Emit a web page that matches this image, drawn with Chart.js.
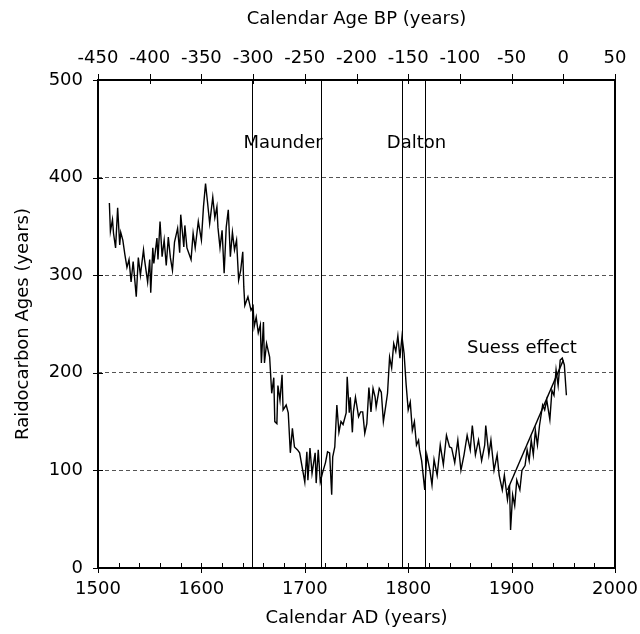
<!DOCTYPE html>
<html>
<head>
<meta charset="utf-8">
<script src="https://cdn.jsdelivr.net/npm/chart.js@4/dist/chart.umd.min.js"></script>
<style>
  html, body { margin: 0; padding: 0; background: #fff; }
  #wrap { width: 640px; height: 634px; position: relative; }
</style>
</head>
<body>
<div id="wrap"><canvas id="c14"></canvas></div>
<script>
// radiocarbon record, calendar AD vs 14C age
const years = [
  1511, 1512, 1514, 1515, 1517, 1519, 1521, 1522, 1524, 1526, 1528, 1530, 1532, 1534, 1537, 1539,
  1541, 1544, 1545, 1548, 1550, 1551, 1553, 1554, 1557, 1558, 1560, 1562, 1564, 1566, 1568, 1570,
  1572, 1574, 1577, 1579, 1580, 1583, 1584, 1586, 1590, 1592, 1594, 1597, 1600, 1602, 1604, 1606,
  1608, 1611, 1613, 1615, 1616, 1618, 1620, 1622, 1624, 1626, 1628, 1630, 1632, 1634, 1636, 1638,
  1640, 1641, 1642, 1645, 1648, 1650, 1651, 1653, 1655, 1657, 1658, 1660, 1661, 1663, 1666, 1668,
  1670, 1671, 1673, 1674, 1676, 1678, 1679, 1682, 1684, 1686, 1688, 1690, 1693, 1695, 1698, 1700,
  1702, 1703, 1705, 1707, 1710, 1711, 1713, 1715, 1717, 1720, 1722, 1724, 1726, 1727, 1729, 1731,
  1733, 1735, 1737, 1740, 1741, 1743, 1744, 1746, 1747, 1749, 1752, 1754, 1756, 1758, 1760, 1762,
  1764, 1766, 1768, 1769, 1772, 1774, 1776, 1778, 1780, 1782, 1784, 1786, 1788, 1790, 1792, 1794,
  1796, 1798, 1800, 1802, 1804, 1806, 1808, 1810, 1811, 1813, 1816, 1818, 1821, 1823, 1825, 1828,
  1831, 1834, 1837, 1840, 1842, 1845, 1848, 1851, 1854, 1857, 1860, 1862, 1865, 1868, 1871, 1874,
  1875, 1878, 1880, 1883, 1886, 1888, 1891, 1893, 1896, 1898, 1899, 1901, 1903, 1905, 1908, 1910,
  1913, 1915, 1917, 1919, 1921, 1923, 1925, 1927, 1930, 1932, 1934, 1937, 1939, 1941, 1943, 1945,
  1947, 1949, 1951, 1953
];
const ages = [
  374, 345, 357, 343, 328, 369, 331, 344, 336, 321, 308, 316, 293, 314, 278, 318,
  300, 326, 316, 293, 316, 282, 328, 312, 338, 316, 355, 319, 336, 310, 339, 318,
  305, 334, 348, 323, 362, 329, 351, 328, 316, 343, 328, 355, 336, 370, 394, 374,
  353, 380, 359, 370, 349, 328, 346, 302, 349, 367, 319, 344, 326, 336, 295, 305,
  324, 288, 269, 278, 264, 268, 247, 257, 241, 249, 210, 252, 210, 230, 216, 179,
  195, 150, 148, 187, 172, 198, 162, 167, 159, 118, 143, 124, 121, 118, 100, 88,
  119, 90, 123, 97, 118, 87, 121, 88, 97, 108, 119, 118, 75, 114, 124, 167,
  139, 150, 147, 159, 196, 159, 175, 139, 160, 175, 155, 160, 160, 138, 148, 185,
  160, 184, 175, 165, 184, 180, 150, 164, 179, 216, 205, 230, 222, 238, 215, 237,
  220, 188, 162, 170, 141, 150, 126, 131, 121, 110, 80, 116, 100, 85, 111, 95,
  126, 106, 136, 124, 123, 108, 131, 100, 116, 136, 121, 146, 116, 131, 110, 126,
  146, 116, 131, 100, 116, 95, 80, 95, 70, 85, 39, 75, 64, 90, 80, 100,
  105, 121, 110, 131, 116, 141, 126, 146, 167, 162, 172, 152, 182, 177, 203, 187,
  213, 215, 208, 177
];

// Suess effect trend line
const suessYears = [1896, 1950];
const suessAges = [80, 213];

// solar minima
const maunderYears = [1649, 1716];
const daltonYears = [1794, 1816];

const notes = [
  { text: 'Maunder', x: 1679, y: 435 },
  { text: 'Dalton', x: 1808, y: 435 },
  { text: 'Suess effect', x: 1910, y: 225 }
];

const FONT = "'DejaVu Sans', Verdana, sans-serif";
const font18 = { family: FONT, size: 18 };

const frame = {
  id: 'frame',
  afterDatasetsDraw(chart) {
    const ctx = chart.ctx;
    const x = chart.scales.x, xTop = chart.scales.xTop, y = chart.scales.y;
    const { left, right, top, bottom } = chart.chartArea;

    ctx.save();
    ctx.strokeStyle = '#000';

    // minimum boxes, full height
    ctx.lineWidth = 1;
    [maunderYears, daltonYears].forEach(span => {
      const x0 = Math.round(x.getPixelForValue(span[0])) + 0.5;
      const x1 = Math.round(x.getPixelForValue(span[1])) + 0.5;
      ctx.strokeRect(x0, top, x1 - x0, bottom - top);
    });

    // text notes
    ctx.fillStyle = '#000';
    ctx.font = '18px ' + FONT;
    ctx.textAlign = 'center';
    ctx.textBaseline = 'middle';
    notes.forEach(n => ctx.fillText(n.text, x.getPixelForValue(n.x), y.getPixelForValue(n.y)));

    // tick marks
    ctx.beginPath();
    for (let v = 1500; v <= 2000; v += 20) {
      const px = Math.round(x.getPixelForValue(v)) + 0.5;
      ctx.moveTo(px, bottom - 5);
      ctx.lineTo(px, v % 100 === 0 ? bottom + 5 : bottom);
    }
    xTop.ticks.forEach(t => {
      const px = Math.round(xTop.getPixelForValue(t.value)) + 0.5;
      ctx.moveTo(px, top - 6);
      ctx.lineTo(px, top + 4);
    });
    y.ticks.forEach(t => {
      const py = Math.round(y.getPixelForValue(t.value)) + 0.5;
      ctx.moveTo(left - 5, py);
      ctx.lineTo(left + 5, py);
    });
    ctx.stroke();

    // plot frame
    ctx.lineWidth = 2;
    ctx.strokeRect(left, top, right - left, bottom - top);
    ctx.restore();
  }
};

function noEdgePadding(s) {
  s.paddingLeft = 0;
  s.paddingRight = 0;
  s.paddingTop = 0;
  s.paddingBottom = 0;
}

new Chart(document.getElementById('c14'), {
  type: 'line',
  data: {
    datasets: [
      {
        data: years.map((yr, i) => ({ x: yr, y: ages[i] })),
        borderColor: '#000',
        borderWidth: 1.4,
        pointRadius: 0,
        tension: 0
      },
      {
        data: suessYears.map((yr, i) => ({ x: yr, y: suessAges[i] })),
        borderColor: '#000',
        borderWidth: 1.4,
        pointRadius: 0
      }
    ]
  },
  options: {
    responsive: true,
    maintainAspectRatio: false,
    animation: false,
    layout: { padding: { right: 25 } },
    plugins: {
      legend: { display: false },
      tooltip: { enabled: false }
    },
    scales: {
      x: {
        type: 'linear',
        position: 'bottom',
        min: 1500,
        max: 2000,
        ticks: {
          stepSize: 100,
          padding: 11,
          color: '#000',
          font: font18,
          autoSkip: false,
          maxRotation: 0,
          callback: v => String(v)
        },
        grid: { display: false, drawTicks: false },
        border: { display: false },
        title: {
          display: true,
          text: 'Calendar AD (years)',
          color: '#000',
          font: font18,
          padding: { top: 0, bottom: 5 }
        },
        afterFit(s) { s.height = 66; noEdgePadding(s); }
      },
      xTop: {
        type: 'linear',
        position: 'top',
        min: -450,
        max: 50,
        ticks: {
          stepSize: 50,
          padding: 11,
          color: '#000',
          font: font18,
          autoSkip: false,
          maxRotation: 0,
          callback: v => String(v)
        },
        grid: { display: false, drawTicks: false },
        border: { display: false },
        title: {
          display: true,
          text: 'Calendar Age BP (years)',
          color: '#000',
          font: font18,
          padding: { top: 9, bottom: 0 }
        },
        afterFit(s) { s.height = 80; noEdgePadding(s); }
      },
      y: {
        min: 0,
        max: 500,
        ticks: {
          stepSize: 100,
          padding: 15,
          color: '#000',
          font: font18,
          callback: v => String(v)
        },
        grid: {
          drawTicks: false,
          lineWidth: 1,
          color: c => (c.tick.value > 0 && c.tick.value < 500) ? '#555' : 'rgba(0,0,0,0)'
        },
        border: { display: false, dash: [4, 3] },
        title: {
          display: true,
          text: 'Raidocarbon Ages (years)',
          color: '#000',
          font: font18,
          padding: { top: 13, bottom: 0 }
        },
        afterFit(s) { s.width = 98; noEdgePadding(s); }
      }
    }
  },
  plugins: [frame]
});
</script>
</body>
</html>
